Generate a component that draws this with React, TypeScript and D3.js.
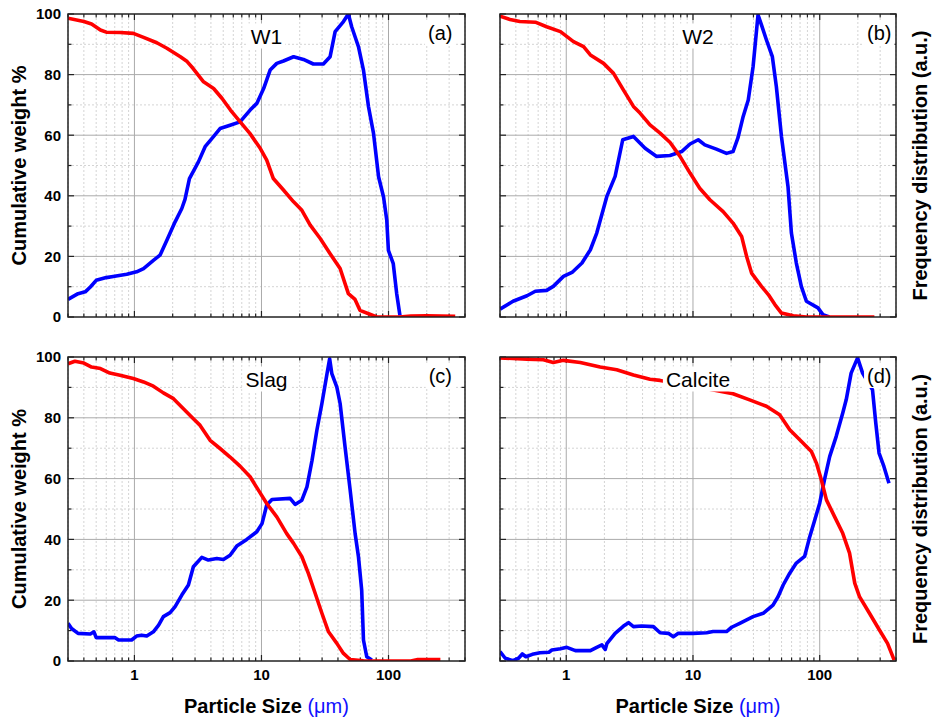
import React, { useRef, useEffect } from 'react';
import * as d3 from 'd3';

// particle size (um), percent
const w1Cumulative: [number, number][] = [
  [0.3, 98.6], [0.4, 97.5], [0.46, 96.7], [0.54, 94.7], [0.6, 94.0], [0.77, 93.9], [0.98, 93.6],
  [1.18, 92.3], [1.5, 90.5], [1.8, 88.7], [2.3, 85.9], [2.6, 84.3], [2.9, 82.0], [3.5, 77.6],
  [4.2, 75.4], [4.9, 72.1], [5.7, 68.3], [6.8, 64.4], [8.1, 60.6], [9.8, 55.6], [11, 51.8],
  [12.4, 45.7], [14.9, 41.9], [17.9, 38.0], [20.8, 35.2], [24.2, 30.3], [29, 25.9], [34.7, 20.9],
  [41.6, 16.0], [45.5, 11.0], [48.3, 7.7], [54.5, 5.8], [59.6, 2.2], [71.3, 0.9], [80.6, 0],
  [122, 0], [150, 0.3], [200, 0.4], [335, 0.2],
];
const w1Frequency: [number, number][] = [
  [0.3, 5.8], [0.36, 7.7], [0.41, 8.3], [0.45, 9.9], [0.5, 12.1], [0.6, 13.0], [0.68, 13.4],
  [0.87, 14.1], [1.04, 14.9], [1.18, 16.0], [1.41, 18.7], [1.59, 20.4], [1.8, 25.3], [2.09, 31.4],
  [2.36, 35.8], [2.5, 38.8], [2.71, 45.7], [3.19, 51.2], [3.6, 56.2], [4.19, 59.5], [4.72, 62.2],
  [5.66, 63.3], [6.78, 64.4], [8.14, 68.3], [9.19, 70.5], [10.4, 75.4], [11.7, 81.5], [13.2, 83.7],
  [14.9, 84.5], [17.9, 85.9], [21.4, 85.0], [25.6, 83.5], [30.7, 83.5], [34.7, 85.9], [38, 94.2],
  [44.2, 97.5], [48.3, 100], [51.3, 95.8], [58, 89.2], [63.5, 81.5], [69.6, 69.4], [76.2, 60.6],
  [83.5, 46.3], [91.4, 39.6], [96.9, 31.9], [99.8, 22.0], [109, 17.6], [116, 7.7], [123, 0.5],
];

const w2Cumulative: [number, number][] = [
  [0.3, 99.3], [0.36, 98.2], [0.43, 97.5], [0.57, 97.3], [0.7, 95.8], [0.9, 94.2], [1.14, 90.9],
  [1.37, 89.2], [1.55, 86.5], [1.97, 83.7], [2.36, 80.4], [2.83, 74.9], [3.39, 69.5], [3.82, 67.3],
  [4.58, 63.4], [5.5, 60.7], [6.6, 57.6], [7.9, 53.0], [9.48, 47.5], [11.3, 42.5], [13.6, 38.7],
  [17.3, 34.8], [20.7, 31.0], [24.2, 26.6], [26.5, 20.0], [29, 14.5], [34.7, 10.1], [39.3, 7.4],
  [44.3, 4.1], [49.9, 1.3], [61.8, 0.4], [78.5, 0], [270, 0],
];
const w2Frequency: [number, number][] = [
  [0.3, 2.6], [0.38, 5.2], [0.49, 7.0], [0.57, 8.5], [0.7, 8.8], [0.79, 10.1], [0.95, 13.4],
  [1.11, 14.7], [1.33, 17.8], [1.55, 22.2], [1.74, 27.7], [2.09, 39.8], [2.43, 46.4], [2.79, 58.5],
  [3.39, 59.6], [4.19, 55.7], [5.17, 53.0], [6.58, 53.3], [8.14, 54.6], [9.48, 57.1], [11, 58.5],
  [12.4, 56.8], [15.3, 55.4], [18.4, 54.0], [20.7, 54.6], [22.7, 59.3], [24.9, 66.2], [27.3, 71.6],
  [29.8, 82.6], [32.6, 99.7], [34.7, 96.4], [38, 91.4], [42.3, 85.9], [45.5, 76.0], [49.9, 59.6],
  [56.2, 43.1], [59.8, 27.7], [65.4, 17.8], [71.6, 10.1], [78.5, 5.2], [96.9, 3.0], [106, 0.8],
  [119, 0],
];

const slagCumulative: [number, number][] = [
  [0.3, 97.8], [0.34, 98.6], [0.4, 98.0], [0.46, 96.7], [0.54, 96.2], [0.64, 94.7], [0.77, 94.0],
  [0.98, 92.9], [1.18, 91.8], [1.41, 90.4], [1.69, 88.2], [2.03, 86.3], [2.43, 83.0], [2.91, 79.7],
  [3.29, 77.5], [3.94, 72.6], [4.72, 69.9], [5.66, 67.1], [6.78, 64.1], [8.14, 60.6], [9.46, 56.2],
  [11, 51.8], [13.2, 47.4], [15.8, 41.9], [17.9, 38.7], [20.8, 34.3], [23.4, 28.8], [26.5, 22.2],
  [29.9, 15.7], [33.7, 9.6], [39.2, 5.8], [44.2, 2.5], [49.9, 0.5], [63.5, 0.1], [150, 0],
  [170, 0.5], [256, 0.5],
];
const slagFrequency: [number, number][] = [
  [0.3, 12.4], [0.32, 10.7], [0.36, 9.1], [0.45, 8.9], [0.48, 9.6], [0.5, 7.7], [0.7, 7.7],
  [0.75, 6.9], [0.95, 6.9], [1.04, 8.2], [1.14, 8.5], [1.25, 8.2], [1.41, 9.6], [1.55, 11.8],
  [1.69, 14.6], [1.91, 15.9], [2.09, 17.9], [2.36, 21.7], [2.66, 25.0], [2.91, 31.0], [3.39, 34.1],
  [3.82, 33.2], [4.45, 33.7], [5.02, 33.4], [5.66, 34.8], [6.39, 37.8], [7.66, 40.0], [9.19, 42.5],
  [10.1, 45.2], [11, 51.3], [12.1, 53.1], [16.8, 53.5], [18.4, 51.5], [20.8, 52.9], [22.8, 57.3],
  [25, 66.0], [27.3, 75.9], [29.9, 84.7], [32.8, 94.5], [34.4, 99.4], [35.8, 94.5], [39.2, 90.1],
  [41.6, 84.7], [45.5, 70.4], [49.9, 56.2], [54.6, 41.9], [58, 34.3], [61.5, 23.3], [63.5, 6.9],
  [67.4, 1.4], [73.9, 0.3],
];

const calciteCumulative: [number, number][] = [
  [0.3, 99.7], [0.49, 99.3], [0.66, 99.1], [0.79, 98.2], [0.95, 98.9], [1.29, 98.2], [1.85, 96.7],
  [2.5, 95.8], [3.39, 94.1], [4.58, 92.7], [5.5, 92.3], [7.5, 91.3], [10.5, 90.3], [13.5, 89.4],
  [16.3, 88.7], [20.7, 87.9], [28, 85.9], [38, 83.8], [48.3, 81.0], [58, 76.1], [69.6, 72.8],
  [86, 68.9], [94.2, 65.1], [103, 59.6], [113, 53.0], [131, 47.5], [152, 42.0], [172, 35.5],
  [189, 25.6], [206, 21.2], [247, 15.7], [296, 10.2], [343, 5.8], [387, 0.3],
];
const calciteFrequency: [number, number][] = [
  [0.3, 3.1], [0.33, 0.9], [0.38, 0.1], [0.42, 0.9], [0.45, 2.3], [0.48, 1.4], [0.54, 2.2],
  [0.62, 2.7], [0.73, 2.9], [0.77, 3.6], [0.9, 4.0], [1.01, 4.5], [1.18, 3.4], [1.55, 3.4],
  [1.74, 4.5], [1.91, 5.3], [2.03, 3.8], [2.09, 5.7], [2.43, 9.1], [2.83, 11.5], [3.1, 12.6],
  [3.39, 11.3], [3.94, 11.5], [4.87, 11.3], [5.5, 9.3], [6.39, 9.1], [7.0, 8.0], [7.66, 9.1],
  [10.05, 9.1], [12.8, 9.3], [14.4, 9.7], [18.4, 9.7], [20.2, 11.1], [23.4, 12.4], [29.8, 14.6],
  [35.8, 15.7], [42.8, 18.4], [47, 21.2], [51.5, 25.0], [58, 28.9], [65.4, 32.2], [76, 34.4],
  [83.5, 40.9], [91.4, 46.4], [100, 51.9], [109, 59.6], [120, 67.3], [135, 73.9], [152, 81.6],
  [162, 86.0], [177, 94.7], [199, 99.7], [218, 94.7], [261, 89.2], [277, 78.3], [294, 68.4],
  [321, 64.0], [352, 58.5],
];

const xDomain = [0.3, 400];
const xMajorTicks = [1, 10, 100];
const yMajorTicks = [0, 20, 40, 60, 80, 100];
const yMinorTicks = [10, 30, 50, 70, 90];

const panels = [
  { name: 'W1', tag: '(a)', cumulative: w1Cumulative, frequency: w1Frequency },
  { name: 'W2', tag: '(b)', cumulative: w2Cumulative, frequency: w2Frequency },
  { name: 'Slag', tag: '(c)', cumulative: slagCumulative, frequency: slagFrequency },
  { name: 'Calcite', tag: '(d)', cumulative: calciteCumulative, frequency: calciteFrequency },
];

const boxes = [
  { left: 68, right: 465, top: 14, bottom: 317, tagInset: 12.5 },
  { left: 500, right: 896, top: 14, bottom: 317, tagInset: 4.5 },
  { left: 68, right: 465, top: 357, bottom: 661, tagInset: 13 },
  { left: 500, right: 896, top: 357, bottom: 661, tagInset: 4.5 },
];

const FONT = "Arial, 'Liberation Sans', sans-serif";

const App = () => {
  const ref = useRef<SVGSVGElement>(null);

  useEffect(() => {
    const svg = d3.select(ref.current);
    svg.selectAll('*').remove();
    const defs = svg.append('defs');

    panels.forEach((p, i) => {
      const b = boxes[i];
      const x = d3.scaleLog().domain(xDomain).range([b.left, b.right]);
      const y = d3.scaleLinear().domain([0, 100]).range([b.bottom, b.top]);
      const g = svg.append('g');

      const allX = x.ticks();
      const isMajor = (t: number) => xMajorTicks.some(m => Math.abs(m - t) < 1e-9);
      const minorX = allX.filter(t => !isMajor(t));

      // minor grid (dotted)
      g.selectAll('.mgx').data(minorX).enter().append('line')
        .attr('x1', d => x(d)).attr('x2', d => x(d))
        .attr('y1', b.top).attr('y2', b.bottom)
        .attr('stroke', '#d4d4d4').attr('stroke-width', 1).attr('stroke-dasharray', '2,2');
      g.selectAll('.mgy').data(yMinorTicks).enter().append('line')
        .attr('x1', b.left).attr('x2', b.right)
        .attr('y1', d => y(d)).attr('y2', d => y(d))
        .attr('stroke', '#d4d4d4').attr('stroke-width', 1).attr('stroke-dasharray', '2,2');

      // major grid
      g.selectAll('.Mgx').data(xMajorTicks).enter().append('line')
        .attr('x1', d => x(d)).attr('x2', d => x(d))
        .attr('y1', b.top).attr('y2', b.bottom)
        .attr('stroke', '#aaaaaa').attr('stroke-width', 1);
      g.selectAll('.Mgy').data(yMajorTicks.slice(1, -1)).enter().append('line')
        .attr('x1', b.left).attr('x2', b.right)
        .attr('y1', d => y(d)).attr('y2', d => y(d))
        .attr('stroke', '#aaaaaa').attr('stroke-width', 1);

      // ticks, inward on all four sides
      const tickColor = '#222';
      const xt = [...xMajorTicks.map(t => ({ v: t, len: 6 })), ...minorX.map(t => ({ v: t, len: 3.5 }))];
      xt.forEach(t => {
        g.append('line').attr('x1', x(t.v)).attr('x2', x(t.v))
          .attr('y1', b.bottom).attr('y2', b.bottom - t.len).attr('stroke', tickColor).attr('stroke-width', 1.2);
        g.append('line').attr('x1', x(t.v)).attr('x2', x(t.v))
          .attr('y1', b.top).attr('y2', b.top + t.len).attr('stroke', tickColor).attr('stroke-width', 1.2);
      });
      const yt = [...yMajorTicks.map(t => ({ v: t, len: 6 })), ...yMinorTicks.map(t => ({ v: t, len: 3.5 }))];
      yt.forEach(t => {
        g.append('line').attr('x1', b.left).attr('x2', b.left + t.len)
          .attr('y1', y(t.v)).attr('y2', y(t.v)).attr('stroke', tickColor).attr('stroke-width', 1.2);
        g.append('line').attr('x1', b.right).attr('x2', b.right - t.len)
          .attr('y1', y(t.v)).attr('y2', y(t.v)).attr('stroke', tickColor).attr('stroke-width', 1.2);
      });

      // curves
      const clipId = `clip-${i}`;
      defs.append('clipPath').attr('id', clipId).append('rect')
        .attr('x', b.left).attr('y', b.top)
        .attr('width', b.right - b.left).attr('height', b.bottom - b.top);

      const line = d3.line<[number, number]>()
        .x(d => x(d[0]))
        .y(d => y(d[1]));

      const lines = g.append('g').attr('clip-path', `url(#${clipId})`);
      lines.append('path').datum(p.frequency)
        .attr('fill', 'none').attr('stroke', '#0000ff').attr('stroke-width', 3.6)
        .attr('stroke-linejoin', 'round').attr('d', line);
      lines.append('path').datum(p.cumulative)
        .attr('fill', 'none').attr('stroke', '#ff0000').attr('stroke-width', 3.6)
        .attr('stroke-linejoin', 'round').attr('d', line);

      // frame
      g.append('rect')
        .attr('x', b.left).attr('y', b.top)
        .attr('width', b.right - b.left).attr('height', b.bottom - b.top)
        .attr('fill', 'none').attr('stroke', '#222').attr('stroke-width', 1.5);

      // panel labels with white background
      const addLabel = (text: string, lx: number, ly: number, size: number, anchor: string) => {
        const bg = g.append('rect').attr('fill', '#fff');
        const t = g.append('text')
          .attr('x', lx).attr('y', ly)
          .attr('text-anchor', anchor)
          .attr('font-family', FONT).attr('font-size', size)
          .attr('fill', '#000')
          .text(text);
        const bb = (t.node() as SVGTextElement).getBBox();
        bg.attr('x', bb.x - 3).attr('y', bb.y - 1).attr('width', bb.width + 6).attr('height', bb.height + 2);
      };
      addLabel(p.name, (b.left + b.right) / 2, b.top + 29.5, 21, 'middle');
      addLabel(p.tag, b.right - b.tagInset, b.top + 26, 20, 'end');

      // y tick labels on left panels
      if (i % 2 === 0) {
        g.selectAll('.yl').data(yMajorTicks).enter().append('text')
          .attr('x', b.left - 7).attr('y', d => y(d)).attr('dy', '0.36em')
          .attr('text-anchor', 'end')
          .attr('font-family', FONT).attr('font-size', 15).attr('font-weight', 'bold')
          .text(d => d);
        g.append('text')
          .attr('transform', `translate(26,${(b.top + b.bottom) / 2}) rotate(-90)`)
          .attr('text-anchor', 'middle')
          .attr('font-family', FONT).attr('font-size', 20).attr('font-weight', 'bold')
          .text('Cumulative weight %');
      } else {
        g.append('text')
          .attr('transform', `translate(927,${(b.top + b.bottom) / 2}) rotate(-90)`)
          .attr('text-anchor', 'middle')
          .attr('font-family', FONT).attr('font-size', 20).attr('font-weight', 'bold')
          .text('Frequency distribution (a.u.)');
      }

      // x tick labels on bottom panels
      if (i >= 2) {
        g.selectAll('.xl').data(xMajorTicks).enter().append('text')
          .attr('x', d => x(d)).attr('y', b.bottom + 19)
          .attr('text-anchor', 'middle')
          .attr('font-family', FONT).attr('font-size', 15).attr('font-weight', 'bold')
          .text(d => d);
        const title = g.append('text')
          .attr('x', (b.left + b.right) / 2).attr('y', 713)
          .attr('text-anchor', 'middle')
          .attr('font-family', FONT).attr('font-size', 20);
        title.append('tspan').attr('font-weight', 'bold').text('Particle Size ');
        title.append('tspan').attr('fill', '#1010ff').text('(μm)');
      }
    });
  }, []);

  return (
    <svg
      ref={ref}
      width={935}
      height={726}
      style={{ position: 'absolute', left: 0, top: 0, background: '#fff' }}
    />
  );
};

export default App;
